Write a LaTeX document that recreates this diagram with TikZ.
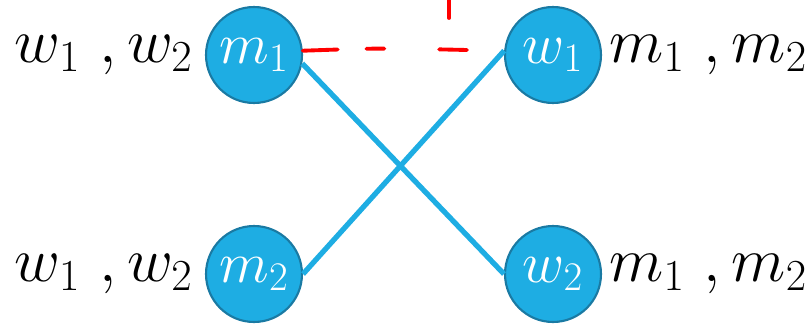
\RequirePackage{fix-cm}
\documentclass[tikz,border=0pt]{standalone}
\usepackage{amsmath}
\usepackage{tikz}
\usetikzlibrary{positioning}

\definecolor{nodeblue}{RGB}{30,173,227}
\definecolor{rimblue}{RGB}{26,122,163}

\begin{document}
\begin{tikzpicture}[
			x=0.02cm, y=-0.02cm,
			agent/.style={circle, draw=rimblue, line width=1.2pt, fill=nodeblue, minimum size=1.92cm, inner sep=0pt, text=white, font=\fontsize{33}{38}\selectfont},
			pref/.style={inner sep=0pt, font=\fontsize{36}{42}\selectfont},
			lig/.style={draw=nodeblue, line width=3pt},
			rd/.style={draw=red, line width=2.2pt, line cap=round}
		]
		\useasboundingbox (0,0) rectangle (810,325);

		\node[agent] (m1) at (254,55) {$m_1$};
		\node[agent] (w1) at (553,55) {$w_1$};
		\node[agent] (m2) at (254,274) {$m_2$};
		\node[agent] (w2) at (553,274) {$w_2$};

		\node[pref, left=0.24cm of m1] (pm1) {$w_1\ ,w_2$};
		\node[pref, left=0.24cm of m2] (pm2) {$w_1\ ,w_2$};
		\node[pref, right=0.14cm of w1] (pw1) {$m_1\ ,m_2$};
		\node[pref, right=0.14cm of w2] (pw2) {$m_1\ ,m_2$};

		% pairing
		\draw[lig] (m1.-10) -- (w2.180);
		\draw[lig] (m2.0) -- (w1.175);

		% red pen mark
		\coordinate (mk1) at (467,50);
		\coordinate (mk2) at (449,0);
		\coordinate (mk3) at (449,18);
		\draw[rd, dash pattern=on 19.8pt off 16.4pt on 10.2pt off 31.2pt on 18.1pt] (m1.5) .. controls (380,48) .. (mk1);
		\draw[rd] (mk2) -- (mk3);
	\end{tikzpicture}
\end{document}
